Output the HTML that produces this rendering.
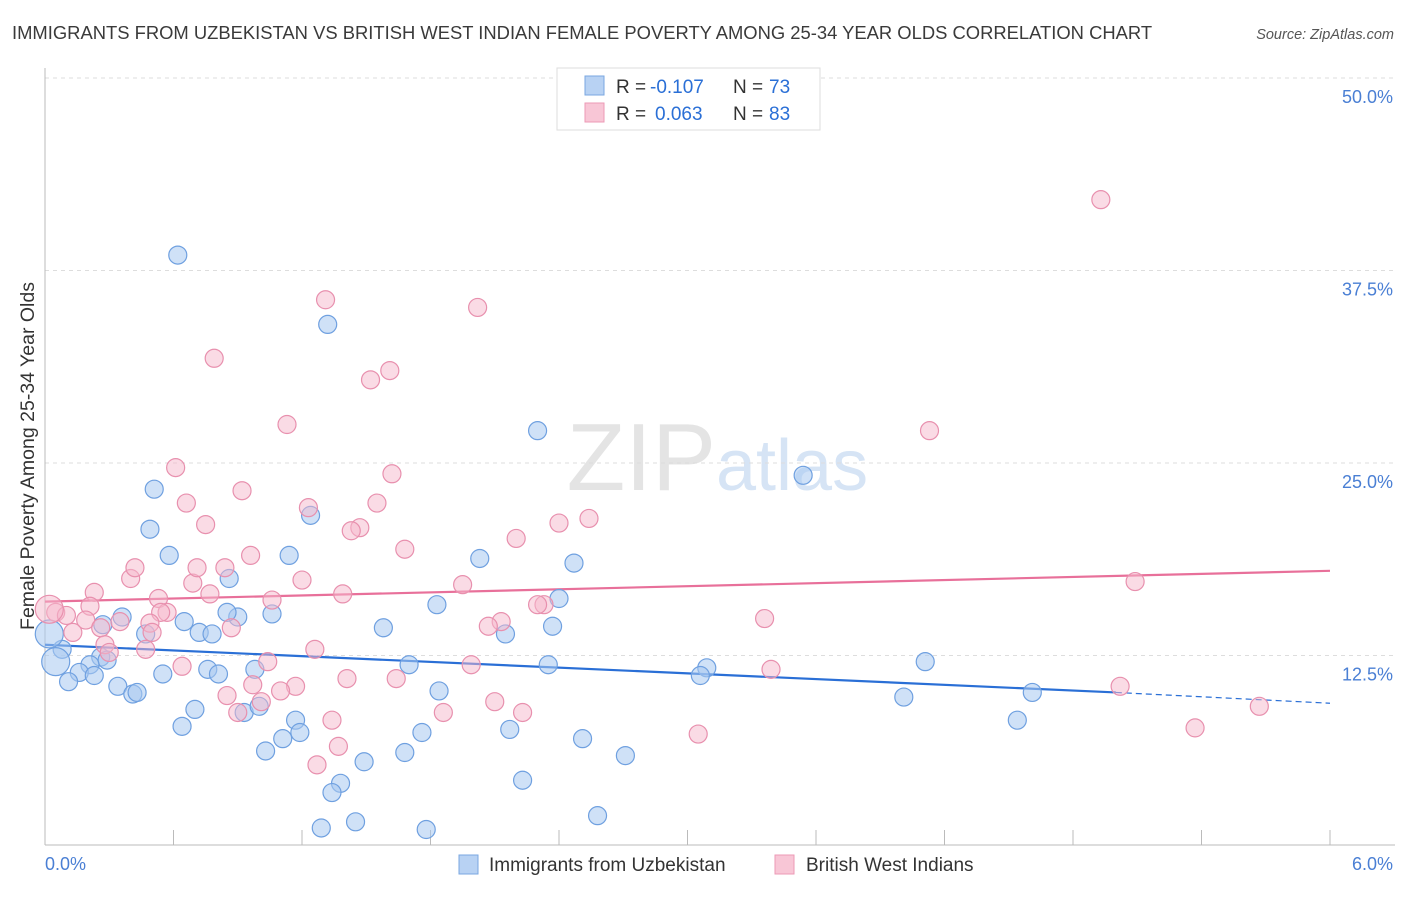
<!DOCTYPE html>
<html><head><meta charset="utf-8"><style>
body{margin:0;background:#fff;font-family:"Liberation Sans",sans-serif}
svg text{font-family:"Liberation Sans",sans-serif}
</style></head><body>
<svg id="chart" width="1406" height="892" xmlns="http://www.w3.org/2000/svg">
<text x="12" y="39" font-size="18.4" fill="#3a3a3a">IMMIGRANTS FROM UZBEKISTAN VS BRITISH WEST INDIAN FEMALE POVERTY AMONG 25-34 YEAR OLDS CORRELATION CHART</text>
<text x="1394" y="39" font-size="14.5" fill="#555" font-style="italic" text-anchor="end">Source: ZipAtlas.com</text>
<text x="716" y="490" font-size="96" fill="#e4e4e4" text-anchor="end" font-family="Liberation Serif">ZIP</text>
<text x="716" y="490" font-size="72" fill="#d6e4f5">atlas</text>
<g id="grid"></g>
<g id="axes"></g>
<g id="lines"></g>
<g id="points"></g>
<text transform="translate(34,456) rotate(-90)" font-size="19.5" fill="#333" text-anchor="middle">Female Poverty Among 25-34 Year Olds</text>
<g>
<rect x="557" y="68" width="263" height="62" fill="#fff" stroke="#ddd"/>
<rect x="585" y="76" width="19" height="19" fill="#b8d2f3" stroke="#7aa7e0"/>
<rect x="585" y="103" width="19" height="19" fill="#f8c6d6" stroke="#ec9ab6"/>
<text x="616" y="93" font-size="19" fill="#333">R =</text>
<text x="650" y="93" font-size="19" fill="#2a6fd6">-0.107</text>
<text x="733" y="93" font-size="19" fill="#333">N =</text>
<text x="769" y="93" font-size="19" fill="#2a6fd6">73</text>
<text x="616" y="120" font-size="19" fill="#333">R =</text>
<text x="655" y="120" font-size="19" fill="#2a6fd6">0.063</text>
<text x="733" y="120" font-size="19" fill="#333">N =</text>
<text x="769" y="120" font-size="19" fill="#2a6fd6">83</text>
</g>
<g>
<rect x="459" y="855" width="19" height="19" fill="#b8d2f3" stroke="#7aa7e0"/>
<text x="489" y="871" font-size="19" fill="#333">Immigrants from Uzbekistan</text>
<rect x="775" y="855" width="19" height="19" fill="#f8c6d6" stroke="#ec9ab6"/>
<text x="806" y="871" font-size="19" fill="#333">British West Indians</text>
</g>
</svg>
<script>
const yTicks=[12.5,25,37.5,50];
const yTickLabels=["12.5%","25.0%","37.5%","50.0%"];
const xTickLabels=["0.0%","6.0%"];
const blueX=[0.62,1.32,2.30,3.54,0.51,1.24,0.49,1.14,0.58,2.03,2.47,0.86,2.40,1.83,0.36,0.65,1.06,0.90,0.85,0.27,0.47,0.72,0.78,1.58,2.37,2.15,0.08,0.26,0.29,0.21,0.16,0.23,0.11,0.55,0.76,0.81,0.98,1.70,2.35,3.09,3.06,4.11,0.34,0.41,0.43,1.84,4.61,4.01,0.70,0.93,1.00,0.64,1.17,1.19,1.11,1.76,2.17,2.51,1.03,1.68,1.49,2.71,4.54,1.38,1.34,2.23,1.45,1.29,1.78,2.58,0.05,0.02];
const blueY=[38.5,34.0,27.1,24.2,23.3,21.6,20.7,19.0,19.0,18.8,18.5,17.5,16.2,15.8,15.0,14.7,15.2,15.0,15.3,14.5,13.9,14.0,13.9,14.3,14.4,13.9,12.9,12.4,12.2,11.9,11.4,11.2,10.8,11.3,11.6,11.3,11.6,11.9,11.9,11.7,11.2,12.1,10.5,10.0,10.1,10.2,10.1,9.8,9.0,8.8,9.2,7.9,8.3,7.5,7.1,7.5,7.7,7.1,6.3,6.2,5.6,6.0,8.3,4.2,3.6,4.4,1.7,1.3,1.2,2.1,12.1,13.9];
const pinkX=[4.93,1.31,2.02,0.79,1.61,1.52,1.13,4.13,0.61,1.62,0.92,0.66,1.55,1.23,0.75,1.47,1.43,2.54,2.40,2.20,1.68,0.96,0.40,0.42,0.69,1.20,0.84,0.71,1.95,5.09,0.23,1.39,0.53,0.77,1.06,0.21,0.57,0.54,2.33,2.30,0.05,0.10,0.19,2.13,2.07,3.36,0.35,0.49,0.87,0.26,0.13,0.50,0.28,0.47,0.30,1.26,1.04,0.64,1.99,3.39,1.41,0.97,1.64,1.17,5.02,0.85,1.10,2.10,0.90,1.86,2.23,5.67,1.34,1.01,3.05,5.37,1.37,1.27,0.02];
const pinkY=[42.1,35.6,35.1,31.8,31.0,30.4,27.5,27.1,24.7,24.3,23.2,22.4,22.4,22.1,21.0,20.8,20.6,21.4,21.1,20.1,19.4,19.0,17.5,18.2,17.2,17.4,18.2,18.2,17.1,17.3,16.6,16.5,16.2,16.5,16.1,15.7,15.3,15.3,15.8,15.8,15.3,15.1,14.8,14.7,14.4,14.9,14.7,14.6,14.3,14.3,14.0,14.0,13.2,12.9,12.7,12.9,12.1,11.8,11.9,11.6,11.0,10.6,11.0,10.5,10.5,9.9,10.2,9.5,8.8,8.8,8.8,9.2,8.3,9.5,7.4,7.8,6.6,5.4,15.5];
const blueTrend=[13.2,10.1,9.4];
const blueTrendX=[0,5,6];
const pinkTrend=[16.0,18.0];
const pinkTrendX=[0,6];

const NS="http://www.w3.org/2000/svg";
const X=v=>45+v/6*1285;
const Y=v=>848-v/50*770;
function mk(tag,attrs,parent){const e=document.createElementNS(NS,tag);for(const k in attrs)e.setAttribute(k,attrs[k]);document.getElementById(parent).appendChild(e);return e;}

yTicks.forEach((t,i)=>{
 const g=mk('line',{x1:45,x2:1395,y1:Y(t),y2:Y(t),stroke:'#ddd','stroke-dasharray':'4,4'},'grid');
 
 
 const tx=mk('text',{x:1393,y:Y(t)+25,'font-size':18,fill:'#4a7fd4','text-anchor':'end'},'grid');
 tx.textContent=yTickLabels[i];
 
 
});
const ax=mk('line',{x1:45,x2:45,y1:68,y2:845,stroke:'#bbb'},'axes');


const bx=mk('line',{x1:45,x2:1395,y1:845,y2:845,stroke:'#bbb'},'axes');


for(let i=0;i<=10;i++){
 const t=mk('line',{x1:X(i*0.6),x2:X(i*0.6),y1:830,y2:845,stroke:'#bbb'},'axes');
 
 
}
const xl0=mk('text',{x:45,y:870,'font-size':18,fill:'#4a7fd4'},'axes');xl0.textContent=xTickLabels[0];


const xl1=mk('text',{x:1393,y:870,'font-size':18,fill:'#4a7fd4','text-anchor':'end'},'axes');xl1.textContent=xTickLabels[1];



blueX.forEach((x,i)=>{
 const r=i>=blueX.length-2?14:9;
 const c=mk('circle',{cx:X(x),cy:Y(blueY[i]),r:r,fill:'rgba(168,200,240,0.55)',stroke:'#6fa0e0','stroke-width':1.2},'points');
 
 
});
pinkX.forEach((x,i)=>{
 const c=mk('circle',{cx:X(x),cy:Y(pinkY[i]),r:i==pinkX.length-1?14:9,fill:'rgba(245,184,204,0.5)',stroke:'#e890ae','stroke-width':1.2},'points');
 
 
});
const bl=mk('line',{x1:X(blueTrendX[0]),y1:Y(blueTrend[0]),x2:X(blueTrendX[1]),y2:Y(blueTrend[1]),stroke:'#2a6fd6','stroke-width':2.2},'lines');


const bd=mk('line',{x1:X(blueTrendX[1]),y1:Y(blueTrend[1]),x2:X(blueTrendX[2]),y2:Y(blueTrend[2]),stroke:'#2a6fd6','stroke-width':1.2,'stroke-dasharray':'6,4'},'lines');


const pl=mk('line',{x1:X(pinkTrendX[0]),y1:Y(pinkTrend[0]),x2:X(pinkTrendX[1]),y2:Y(pinkTrend[1]),stroke:'#e8709a','stroke-width':2.2},'lines');


</script>
</body></html>
